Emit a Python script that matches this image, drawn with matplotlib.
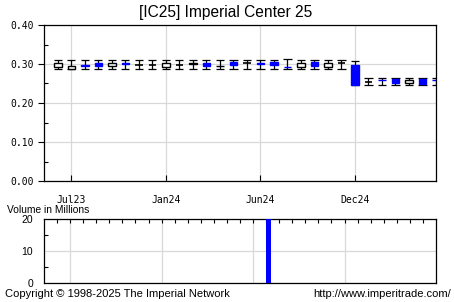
import numpy as np
import matplotlib
matplotlib.use("Agg")
import matplotlib.pyplot as plt

# candle data, one entry per period
opens = [0.293, 0.288, 0.297, 0.303, 0.294, 0.302, 0.297, 0.297, 0.293, 0.297,
         0.301, 0.303, 0.294, 0.305, 0.302, 0.302, 0.305, 0.293, 0.293, 0.305,
         0.293, 0.302, 0.298, 0.255, 0.259, 0.261, 0.251, 0.261, 0.260]
highs = [0.310, 0.311, 0.309, 0.309, 0.309, 0.310, 0.309, 0.309, 0.309, 0.309,
         0.311, 0.310, 0.310, 0.310, 0.310, 0.310, 0.310, 0.312, 0.310, 0.310,
         0.310, 0.310, 0.308, 0.264, 0.264, 0.264, 0.264, 0.264, 0.264]
lows = [0.287, 0.287, 0.287, 0.287, 0.287, 0.287, 0.287, 0.287, 0.287, 0.287,
        0.287, 0.287, 0.287, 0.287, 0.287, 0.287, 0.287, 0.287, 0.287, 0.287,
        0.287, 0.287, 0.246, 0.247, 0.247, 0.247, 0.247, 0.247, 0.247]
closes = [0.302, 0.294, 0.294, 0.294, 0.302, 0.301, 0.297, 0.297, 0.302, 0.297,
          0.303, 0.294, 0.296, 0.298, 0.302, 0.301, 0.297, 0.292, 0.302, 0.295,
          0.302, 0.302, 0.246, 0.255, 0.258, 0.250, 0.259, 0.249, 0.259]
volumes = [0, 0, 0, 0, 0, 0, 0, 0, 0, 0, 0, 0, 0, 0, 0, 0, 24, 0, 0, 0,
           0, 0, 0, 0, 0, 0, 0, 0, 0]
tick_idx = [1, 8, 15, 22]
tick_labels = ["Jul23", "Jan24", "Jun24", "Dec24"]

BLUE = "#0000ff"
GRID = "#d8d8d8"
mono = "DejaVu Sans Mono"
sans = "Liberation Sans"

fig = plt.figure(figsize=(4.54, 3.02), dpi=100)
ax = fig.add_axes([44/454, 1-181/302, 392/454, 156/302])
axv = fig.add_axes([44/454, 1-283/302, 392/454, 64/302])

x = np.arange(len(opens))
opens, highs, lows, closes = map(np.array, (opens, highs, lows, closes))

bw = 0.55
cw = 0.6
up = closes > opens
down = closes < opens
flat = closes == opens

# wicks and caps
ax.vlines(x, lows, highs, color="black", lw=0.9, zorder=3)
ax.hlines(highs, x - cw/2, x + cw/2, color="black", lw=0.9, zorder=3)
ax.hlines(lows, x - cw/2, x + cw/2, color="black", lw=0.9, zorder=3)
# bodies
ax.bar(x[up], (closes - opens)[up], bw, bottom=opens[up], facecolor="white",
       edgecolor="black", lw=1.0, zorder=4)
ax.bar(x[down], (closes - opens)[down], bw, bottom=opens[down], facecolor=BLUE,
       edgecolor=BLUE, lw=1.0, zorder=4)
ax.hlines(opens[flat], x[flat] - bw/2, x[flat] + bw/2, color="black", lw=1.2, zorder=4)

ax.set_xlim(-1.03, 28.0)
ax.set_ylim(0, 0.40)
ax.set_yticks(np.arange(0, 0.41, 0.1))
ax.set_yticks(np.arange(0.05, 0.4, 0.1), minor=True)
ax.set_yticklabels([f"{v:.2f}" for v in np.arange(0, 0.41, 0.1)], family=mono, fontsize=7)
ax.set_xticks(tick_idx)
ax.set_xticklabels(tick_labels, family=mono, fontsize=7)
ax.tick_params(axis="y", which="major", direction="out", length=4, width=0.8, pad=3)
ax.tick_params(axis="y", which="minor", direction="in", length=3, width=0.8)
ax.tick_params(axis="x", which="major", direction="in", length=4, width=0.8, pad=10)
ax.grid(True, color=GRID, lw=0.9)
ax.set_axisbelow(True)
for s in ax.spines.values():
    s.set_linewidth(0.9)

# volume panel
axv.bar(x, volumes, 0.38, align="edge", color=BLUE, zorder=3)
axv.set_xlim(-1, 29)
axv.set_ylim(0, 20)
axv.set_yticks([0, 10, 20])
axv.set_yticks([5, 15], minor=True)
axv.set_yticklabels(["0", "10", "20"], family=sans, fontsize=7.5)
axv.tick_params(axis="y", which="major", length=0, pad=8)
axv.tick_params(axis="y", which="minor", direction="in", length=3, width=0.8)
axv.set_xticks(tick_idx)
axv.set_xticks(np.arange(0, 29), minor=True)
axv.tick_params(axis="x", which="both", direction="in", bottom=False, top=True,
                labelbottom=False, length=3, width=0.8)
axv.grid(True, color=GRID, lw=0.9)
axv.set_axisbelow(True)
for s in axv.spines.values():
    s.set_linewidth(0.9)

fig.text(226/454, 1-13/302, "[IC25] Imperial Center 25", family=sans, fontsize=11.2,
         ha="center", va="center")
fig.text(7/454, 1-210/302, "Volume in Millions", family=sans, fontsize=7.4,
         ha="left", va="center")
fig.text(5/454, 1-294/302, "Copyright \u00a9 1998-2025 The Imperial Network", family=sans,
         fontsize=8, ha="left", va="center")
fig.text(451/454, 1-294/302, "http://www.imperitrade.com/", family=sans, fontsize=8,
         ha="right", va="center")

fig.savefig("out.png", dpi=100)
